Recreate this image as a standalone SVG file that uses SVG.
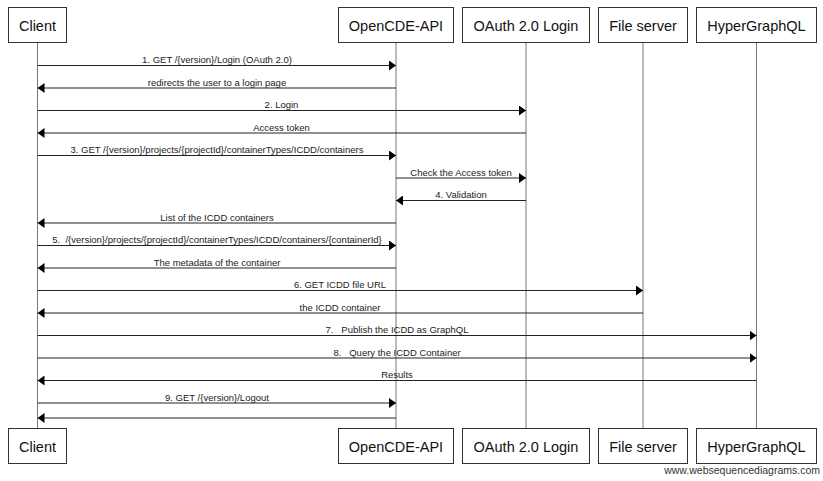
<svg xmlns="http://www.w3.org/2000/svg" width="823" height="481" viewBox="0 0 823 481">
<style>
.box{fill:#fff;stroke:#333;stroke-width:1}
.bt{font-family:"Liberation Sans",Arial,sans-serif;font-size:14.5px;fill:#111;text-anchor:middle}
.life{stroke:#777;stroke-width:1;fill:none}
.msg{stroke:#222;stroke-width:1;fill:none;marker-end:url(#ah)}
.ml{font-family:"Liberation Sans",Arial,sans-serif;font-size:9.5px;fill:#222;text-anchor:middle;white-space:pre}
.wm{font-family:"Liberation Sans",Arial,sans-serif;font-size:10.5px;fill:#333;text-anchor:end}
</style>
<defs>
<marker id="ah" viewBox="0 0 7 10" refX="7" refY="5" markerWidth="7" markerHeight="10" markerUnits="userSpaceOnUse" orient="auto">
<path d="M0,0 L7,5 L0,10 Z" fill="#000"/>
</marker>
</defs>
<rect width="823" height="481" fill="#fff"/>
<g id="lifelines">
<line class="life" x1="37.5" y1="43" x2="37.5" y2="428"/>
<line class="life" x1="396" y1="43" x2="396" y2="428"/>
<line class="life" x1="526" y1="43" x2="526" y2="428"/>
<line class="life" x1="643" y1="43" x2="643" y2="428"/>
<line class="life" x1="756.5" y1="43" x2="756.5" y2="428"/>
</g>
<g id="client">
<rect class="box" x="8.5" y="7.5" width="58" height="35"/>
<text class="bt" x="37.5" y="31">Client</text>
<rect class="box" x="8.5" y="428.5" width="58" height="35"/>
<text class="bt" x="37.5" y="452">Client</text>
</g>
<g id="opencde">
<rect class="box" x="338.5" y="7.5" width="115" height="35"/>
<text class="bt" x="396" y="31">OpenCDE-API</text>
<rect class="box" x="338.5" y="428.5" width="115" height="35"/>
<text class="bt" x="396" y="452">OpenCDE-API</text>
</g>
<g id="oauth">
<rect class="box" x="462.5" y="7.5" width="127" height="35"/>
<text class="bt" x="526" y="31">OAuth 2.0 Login</text>
<rect class="box" x="462.5" y="428.5" width="127" height="35"/>
<text class="bt" x="526" y="452">OAuth 2.0 Login</text>
</g>
<g id="fileserver">
<rect class="box" x="598.5" y="7.5" width="89" height="35"/>
<text class="bt" x="643" y="31">File server</text>
<rect class="box" x="598.5" y="428.5" width="89" height="35"/>
<text class="bt" x="643" y="452">File server</text>
</g>
<g id="hypergraphql">
<rect class="box" x="696.5" y="7.5" width="120" height="35"/>
<text class="bt" x="756.5" y="31">HyperGraphQL</text>
<rect class="box" x="696.5" y="428.5" width="120" height="35"/>
<text class="bt" x="756.5" y="452">HyperGraphQL</text>
</g>
<g id="connectors">
<line class="msg" x1="37.5" y1="65.5" x2="396" y2="65.5"/>
<text class="ml" x="217" y="63">1. GET /{version}/Login (OAuth 2.0)</text>
<line class="msg" x1="396" y1="88" x2="37.5" y2="88"/>
<text class="ml" x="217" y="85.5">redirects the user to a login page</text>
<line class="msg" x1="37.5" y1="110.5" x2="526" y2="110.5"/>
<text class="ml" x="281.5" y="108">2. Login</text>
<line class="msg" x1="526" y1="133" x2="37.5" y2="133"/>
<text class="ml" x="281.5" y="130.5">Access token</text>
<line class="msg" x1="37.5" y1="155.5" x2="396" y2="155.5"/>
<text class="ml" x="217" y="153">3. GET /{version}/projects/{projectId}/containerTypes/ICDD/containers</text>
<line class="msg" x1="396" y1="178" x2="526" y2="178"/>
<text class="ml" x="461" y="175.5">Check the Access token</text>
<line class="msg" x1="526" y1="200.5" x2="396" y2="200.5"/>
<text class="ml" x="461" y="198">4. Validation</text>
<line class="msg" x1="396" y1="223" x2="37.5" y2="223"/>
<text class="ml" x="217" y="220.5">List of the ICDD containers</text>
<line class="msg" x1="37.5" y1="245.5" x2="396" y2="245.5"/>
<text class="ml" x="217" y="243">5.  /{version}/projects/{projectId}/containerTypes/ICDD/containers/{containerId}</text>
<line class="msg" x1="396" y1="268" x2="37.5" y2="268"/>
<text class="ml" x="217" y="265.5">The metadata of the container</text>
<line class="msg" x1="37.5" y1="290.5" x2="643" y2="290.5"/>
<text class="ml" x="340" y="288">6. GET ICDD file URL</text>
<line class="msg" x1="643" y1="313" x2="37.5" y2="313"/>
<text class="ml" x="340" y="310.5">the ICDD container</text>
<line class="msg" x1="37.5" y1="335.5" x2="756.5" y2="335.5"/>
<text class="ml" x="397" y="333">7.   Publish the ICDD as GraphQL</text>
<line class="msg" x1="37.5" y1="358" x2="756.5" y2="358"/>
<text class="ml" x="397" y="355.5">8.   Query the ICDD Container</text>
<line class="msg" x1="756.5" y1="380.5" x2="37.5" y2="380.5"/>
<text class="ml" x="397" y="378">Results</text>
<line class="msg" x1="37.5" y1="403" x2="396" y2="403"/>
<text class="ml" x="217" y="400.5">9. GET /{version}/Logout</text>
<line class="msg" x1="396" y1="418" x2="37.5" y2="418"/>
</g>
<text class="wm" x="820" y="474">www.websequencediagrams.com</text>
</svg>
